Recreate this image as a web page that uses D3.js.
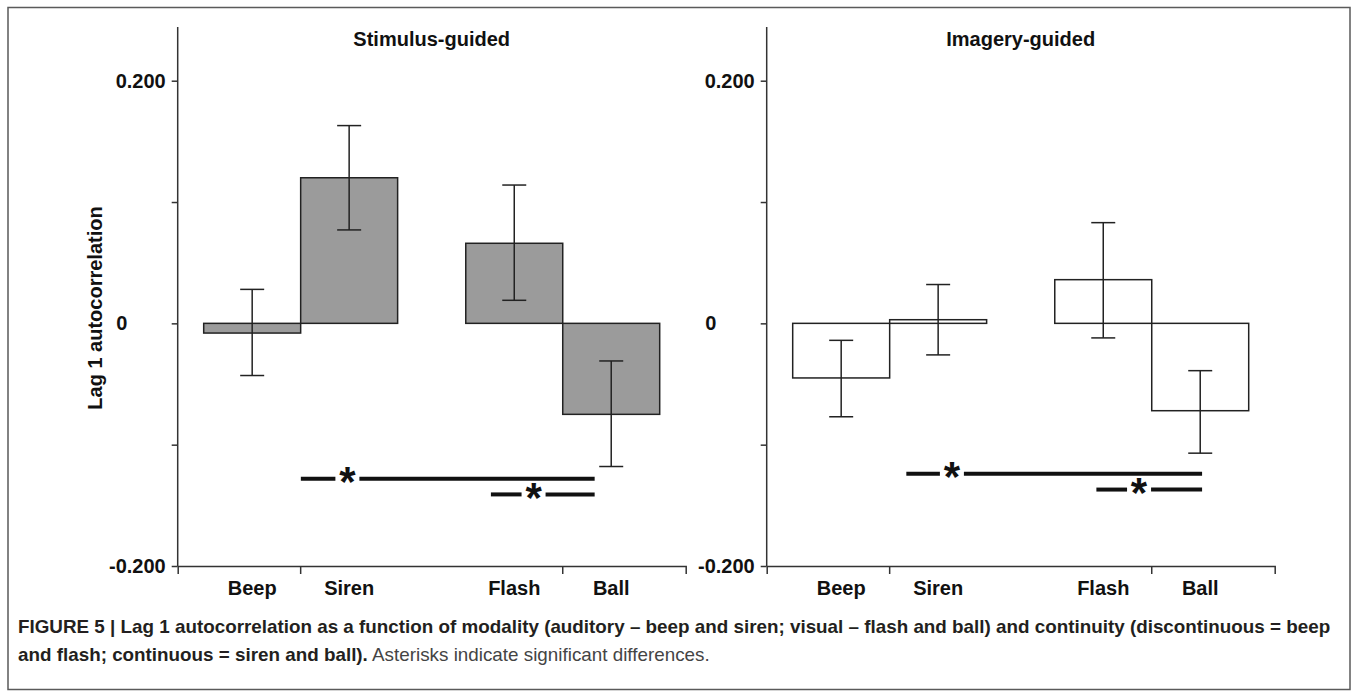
<!DOCTYPE html>
<html><head><meta charset="utf-8">
<script src="https://cdn.jsdelivr.net/npm/d3@7"></script>
<style>body{margin:0;background:#fff}svg{display:block}text{font-family:"Liberation Sans",Arial,Helvetica,sans-serif}</style>
</head><body><svg id="chart" width="1358" height="697"></svg>
<script>
// ---- data ----
const categories = ["Beep", "Siren", "Flash", "Ball"];
const categoryGroup = ["Auditory", "Auditory", "Visual", "Visual"];
const groups = ["Auditory", "Visual"];
const panelTitles = ["Stimulus-guided", "Imagery-guided"];

const stimulusMean = [-0.008, 0.120, 0.066, -0.075];
const stimulusErrHigh = [0.028, 0.163, 0.114, -0.031];
const stimulusErrLow = [-0.043, 0.077, 0.019, -0.118];

const imageryMean = [-0.045, 0.003, 0.036, -0.072];
const imageryErrHigh = [-0.014, 0.032, 0.083, -0.039];
const imageryErrLow = [-0.077, -0.026, -0.012, -0.107];

const yTicks = [-0.2, -0.1, 0, 0.1, 0.2];
const yTickLabels = ["-0.200", "", "0", "", "0.200"];
const yLabel = "Lag 1 autocorrelation";

// significance brackets: positions in bar-widths from the y axis, height in data units
const stimulusSig = [
  {from: 1.27, star: 1.75, to: 4.30, y: -0.128},
  {from: 3.23, star: 3.67, to: 4.30, y: -0.141}
];
const imagerySig = [
  {from: 1.44, star: 1.91, to: 4.49, y: -0.124},
  {from: 3.40, star: 3.84, to: 4.49, y: -0.137}
];

const captionLine1 = "FIGURE 5 | Lag 1 autocorrelation as a function of modality (auditory – beep and siren; visual – flash and ball) and continuity (discontinuous = beep";
const captionLine2Bold = "and flash; continuous = siren and ball).";
const captionLine2Reg = " Asterisks indicate significant differences.";

// ---- drawing ----
const panels = [
  {title: panelTitles[0], mean: stimulusMean, hi: stimulusErrHigh, lo: stimulusErrLow, sig: stimulusSig, fill: "#9b9b9b"},
  {title: panelTitles[1], mean: imageryMean, hi: imageryErrHigh, lo: imageryErrLow, sig: imagerySig, fill: "#ffffff"}
];

const svg = d3.select("#chart");
svg.append("rect").attr("x", 0).attr("y", 0).attr("width", 1358).attr("height", 697).attr("fill", "#fff");
svg.append("rect").attr("x", 8).attr("y", 7.5).attr("width", 1342).attr("height", 682)
  .attr("fill", "none").attr("stroke", "#5a5a5a").attr("stroke-width", 1.5);

const y = d3.scaleLinear().domain([-0.2, 0.2]).range([566, 80.7]);
const axisTop = 27;
const plotW = 508;
const panelStep = 589;
const font = 20;
const starSize = 42;

panels.forEach((p, i) => {
  const x0 = 177.7 + i * panelStep;
  const g = svg.append("g");
  const xg = d3.scaleBand().domain(groups).range([x0, x0 + plotW]).paddingInner(0.26).paddingOuter(0.0992);
  const xsub = d3.scaleBand().domain([0, 1]).range([0, xg.bandwidth()]);
  const bw = xsub.bandwidth();
  const xs = u => x0 + u * bw;

  const data = categories.map((c, k) => {
    const grp = categoryGroup[k];
    const idx = categories.filter((_, j) => categoryGroup[j] === grp).indexOf(c);
    return {c, left: xg(grp) + xsub(idx), v: p.mean[k], hi: p.hi[k], lo: p.lo[k]};
  });

  // title
  g.append("text").attr("x", x0 + plotW / 2).attr("y", 46).attr("text-anchor", "middle")
    .attr("font-weight", "bold").attr("font-size", font).attr("fill", "#111").text(p.title);

  // bars
  g.selectAll("rect.bar").data(data).enter().append("rect").attr("class", "bar")
    .attr("x", d => d.left).attr("width", bw)
    .attr("y", d => y(Math.max(0, d.v)))
    .attr("height", d => Math.abs(y(d.v) - y(0)))
    .attr("fill", p.fill).attr("stroke", "#222").attr("stroke-width", 1.5);

  // error bars
  const eb = g.selectAll("g.err").data(data).enter().append("g").attr("class", "err")
    .attr("stroke", "#222").attr("stroke-width", 1.5);
  eb.append("line").attr("x1", d => d.left + bw / 2).attr("x2", d => d.left + bw / 2)
    .attr("y1", d => y(d.hi)).attr("y2", d => y(d.lo));
  eb.append("line").attr("x1", d => d.left + bw / 2 - 12).attr("x2", d => d.left + bw / 2 + 12)
    .attr("y1", d => y(d.hi)).attr("y2", d => y(d.hi));
  eb.append("line").attr("x1", d => d.left + bw / 2 - 12).attr("x2", d => d.left + bw / 2 + 12)
    .attr("y1", d => y(d.lo)).attr("y2", d => y(d.lo));

  // y axis
  const ya = g.append("g").attr("transform", `translate(${x0},0)`)
    .call(d3.axisLeft(y).tickValues(yTicks).tickSize(6).tickFormat((d, j) => yTickLabels[j]));
  ya.select(".domain").remove();
  ya.append("line").attr("x1", 0).attr("x2", 0).attr("y1", axisTop).attr("y2", y(-0.2))
    .attr("stroke", "#333").attr("stroke-width", 1.5);
  ya.selectAll(".tick line").attr("stroke", "#333").attr("stroke-width", 1.5);
  ya.selectAll(".tick text").attr("font-size", font).attr("font-weight", "bold")
    .attr("font-family", "Liberation Sans, Arial, sans-serif").attr("fill", "#111")
    .attr("x", d => d === 0 ? -56 : -12).attr("text-anchor", d => d === 0 ? "middle" : "end");

  // x axis
  const xa = g.append("g").attr("transform", `translate(0,${y(-0.2)})`)
    .call(d3.axisBottom(xg).tickSizeOuter(0).tickSize(8).tickFormat(""));
  xa.select(".domain").attr("stroke", "#333").attr("stroke-width", 1.5);
  xa.selectAll(".tick line").attr("stroke", "#333").attr("stroke-width", 1.5);

  // category labels
  g.selectAll("text.cat").data(data).enter().append("text").attr("class", "cat")
    .attr("x", d => d.left + bw / 2).attr("y", 595).attr("text-anchor", "middle")
    .attr("font-size", font).attr("font-weight", "bold").attr("fill", "#111").text(d => d.c);

  // significance
  p.sig.forEach(s => {
    const sy = y(s.y), sx = xs(s.star);
    [[xs(s.from), sx - 12], [sx + 12, xs(s.to)]].forEach(seg => {
      g.append("line").attr("x1", seg[0]).attr("x2", seg[1]).attr("y1", sy).attr("y2", sy)
        .attr("stroke", "#111").attr("stroke-width", 4);
    });
    g.append("text").attr("x", sx).attr("y", sy + starSize * 0.42).attr("text-anchor", "middle")
      .attr("font-size", starSize).attr("font-weight", "bold").attr("fill", "#111").text("*");
  });

  if (i === 0) {
    g.append("text").attr("transform", `translate(95,308) rotate(-90)`)
      .attr("text-anchor", "middle").attr("dominant-baseline", "central")
      .attr("font-size", font).attr("font-weight", "bold").attr("fill", "#111").text(yLabel);
  }
});

// caption
const cap = svg.append("g");
const l1 = cap.append("text").attr("x", 0).attr("y", 633).attr("font-size", 19).attr("font-weight", "bold")
  .attr("fill", "#231f20").text(captionLine1);
const l2 = cap.append("text").attr("x", 0).attr("y", 661).attr("font-size", 19).attr("fill", "#231f20");
l2.append("tspan").attr("font-weight", "bold").text(captionLine2Bold);
l2.append("tspan").attr("fill", "#444").text(captionLine2Reg);
const natural = l1.node().getComputedTextLength();
const ratio = 1313 / natural;
cap.attr("transform", `translate(18,0) scale(${ratio},1)`);
</script></body></html>
